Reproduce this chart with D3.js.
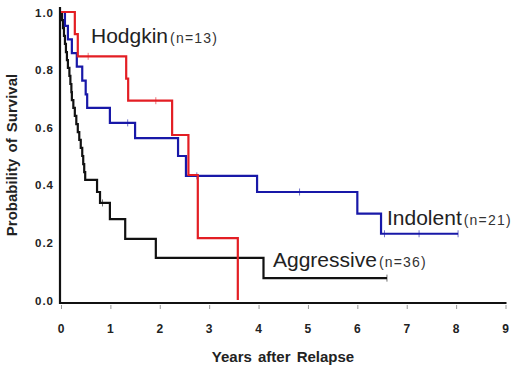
<!DOCTYPE html>
<html>
<head>
<meta charset="utf-8">
<script src="https://cdn.jsdelivr.net/npm/d3@7"></script>
<style>
  body { margin: 0; background: #fff; }
  text { font-family: "Liberation Sans", Arial, sans-serif; }
</style>
</head>
<body>
<div id="chart"></div>
<script>
// survival curves (time in years, survival probability)
var hodgkinTime = [0, 0.28, 0.34, 1.32, 1.36, 2.25, 2.58, 2.77, 3.58];
var hodgkinSurv = [1, 0.923, 0.846, 0.769, 0.692, 0.573, 0.434, 0.215, 0];
var hodgkinCens = [[0.55, 0.846], [1.92, 0.692]];

var indolentTime = [0, 0.08, 0.14, 0.22, 0.32, 0.43, 0.5, 0.53, 0.99, 1.5, 2.37, 2.53, 3.97, 6.0, 6.48, 8.04];
var indolentSurv = [1, 0.952, 0.905, 0.857, 0.81, 0.762, 0.714, 0.667, 0.615, 0.562, 0.50, 0.431, 0.375, 0.30, 0.23, 0.23];
var indolentCens = [[1.35, 0.615], [2.75, 0.431], [4.83, 0.375], [6.55, 0.23], [7.25, 0.23], [8.04, 0.23]];

var aggressiveTime = [0, 0.02, 0.04, 0.06, 0.08, 0.10, 0.12, 0.14, 0.17, 0.19, 0.21, 0.22, 0.25, 0.28, 0.31, 0.34, 0.37, 0.40, 0.43, 0.45, 0.47, 0.49,
	0.73, 0.79, 0.99, 1.30, 1.92, 4.10, 6.60];
var aggressiveSurv = [1, 0.972, 0.944, 0.917, 0.889, 0.861, 0.833, 0.806, 0.778, 0.75, 0.722, 0.694, 0.667, 0.639, 0.611, 0.583, 0.556, 0.528, 0.5, 0.472, 0.444, 0.417,
	0.375, 0.337, 0.281, 0.212, 0.146, 0.076, 0.076];
var aggressiveCens = [[0.84, 0.337], [6.6, 0.076]];

var xTicks = [0, 1, 2, 3, 4, 5, 6, 7, 8, 9];
var yTicks = [0, 0.2, 0.4, 0.6, 0.8, 1.0];

var W = 520, H = 371;

var svg = d3.select('#chart')
	.append('svg')
	.attr('width', W)
	.attr('height', H);

var x = d3.scaleLinear().domain([0, 9]).range([61, 505.5]);
var y = d3.scaleLinear().domain([0, 1]).range([300, 12]);

// x axis
var xAxis = svg.append('g')
	.attr('transform', 'translate(0,' + (y(0) + 3) + ')')
	.call(d3.axisBottom(x).tickValues(xTicks).tickSize(6).tickSizeOuter(0).tickFormat(d3.format('d')));
xAxis.select('.domain')
	.attr('stroke', '#111')
	.attr('stroke-width', 2.2)
	.attr('d', 'M' + (x(0) - 1) + ',0H' + (x(9) + 1));
xAxis.selectAll('.tick line')
	.attr('stroke', '#999')
	.attr('stroke-width', 1)
	.attr('y1', 2);
xAxis.selectAll('.tick text')
	.attr('y', 30)
	.attr('dy', 0)
	.attr('fill', '#222')
	.style('font-size', '12px')
	.style('font-weight', 'bold')
	.style('letter-spacing', '1px');

// y axis
var yAxis = svg.append('g')
	.attr('transform', 'translate(' + (x(0) - 1) + ',0)')
	.call(d3.axisLeft(y).tickValues(yTicks).tickSize(0).tickFormat(d3.format('.1f')));
yAxis.select('.domain')
	.attr('stroke', '#111')
	.attr('stroke-width', 2.2)
	.attr('d', 'M0,' + (y(1) - 5) + 'V' + (y(0) + 4));
yAxis.selectAll('.tick text')
	.attr('x', -6)
	.attr('dy', '0.35em')
	.attr('fill', '#222')
	.style('font-size', '11.5px')
	.style('font-weight', 'bold')
	.style('letter-spacing', '1px');

// axis titles
svg.append('text')
	.attr('x', 283)
	.attr('y', 362)
	.attr('text-anchor', 'middle')
	.attr('fill', '#222')
	.style('font-size', '15px')
	.style('font-weight', 'bold')
	.style('word-spacing', '2px')
	.text('Years after Relapse');

svg.append('text')
	.attr('transform', 'translate(17,155) rotate(-90)')
	.attr('text-anchor', 'middle')
	.attr('fill', '#222')
	.style('font-size', '15px')
	.style('font-weight', 'bold')
	.style('word-spacing', '2px')
	.text('Probability of Survival');

// curves
var line = d3.line()
	.x(function (d) { return x(d[0]); })
	.y(function (d) { return y(d[1]); })
	.curve(d3.curveStepAfter);

var curves = [
	{ name: 'Aggressive', time: aggressiveTime, surv: aggressiveSurv, cens: aggressiveCens, color: '#111111' },
	{ name: 'Indolent', time: indolentTime, surv: indolentSurv, cens: indolentCens, color: '#1818a8' },
	{ name: 'Hodgkin', time: hodgkinTime, surv: hodgkinSurv, cens: hodgkinCens, color: '#e31e24' }
];

curves.forEach(function (c) {
	var pts = c.time.map(function (t, i) { return [t, c.surv[i]]; });
	svg.append('path')
		.datum(pts)
		.attr('fill', 'none')
		.attr('stroke', c.color)
		.attr('stroke-width', 2.2)
		.attr('d', line);
	svg.append('g')
		.selectAll('line')
		.data(c.cens)
		.enter()
		.append('line')
		.attr('x1', function (d) { return x(d[0]); })
		.attr('x2', function (d) { return x(d[0]); })
		.attr('y1', function (d) { return y(d[1]) - 3.5; })
		.attr('y2', function (d) { return y(d[1]) + 3.5; })
		.attr('stroke', c.color)
		.attr('stroke-opacity', 0.6)
		.attr('stroke-width', 1);
});

// curve labels
var labels = [
	{ name: 'Hodgkin', n: '(n=13)', x: 91, y: 43 },
	{ name: 'Indolent', n: '(n=21)', x: 387, y: 225 },
	{ name: 'Aggressive', n: '(n=36)', x: 273, y: 267 }
];

labels.forEach(function (l) {
	var t = svg.append('text')
		.attr('x', l.x)
		.attr('y', l.y)
		.attr('fill', '#222');
	t.append('tspan')
		.style('font-size', '21px')
		.text(l.name);
	t.append('tspan')
		.attr('dx', 2)
		.style('font-size', '14px')
		.style('letter-spacing', '1.2px')
		.attr('fill', '#333')
		.text(l.n);
});
</script>
</body>
</html>
